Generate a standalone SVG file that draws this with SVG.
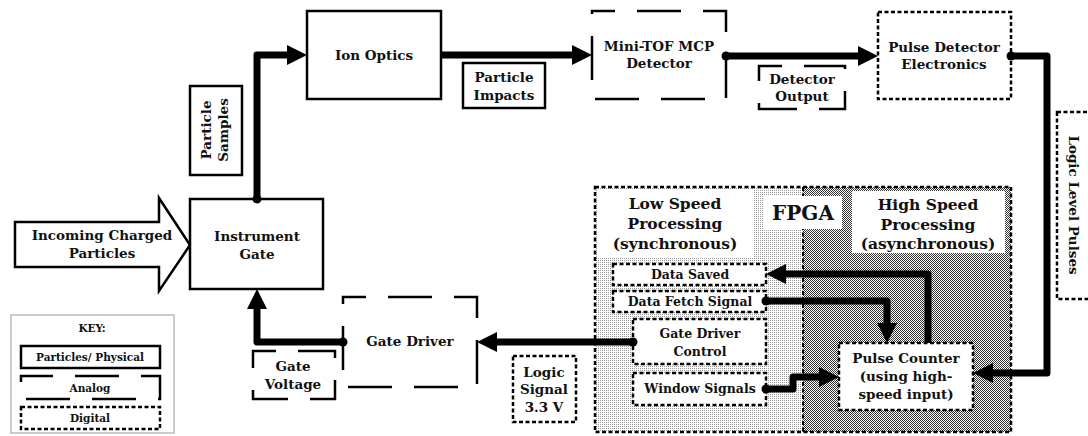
<svg xmlns="http://www.w3.org/2000/svg" width="1088" height="436" viewBox="0 0 1088 436">
<style>
.solid{fill:#fff;stroke:#000;stroke-width:2.5}
.analog{fill:#fff;stroke:#000;stroke-width:2.5;stroke-dasharray:44 22;stroke-dashoffset:21}
.digital{fill:#fff;stroke:#000;stroke-width:2.5;stroke-dasharray:4 2.5}
.conn{fill:none;stroke:#000;stroke-width:7;stroke-linejoin:round}
text{font-family:"DejaVu Serif","Liberation Serif",serif;font-weight:bold;font-size:13.5px;text-anchor:middle;fill:#111}
.sm{font-size:12.5px}
.key{font-size:10.5px}
.big{font-size:15.5px}
</style>
<defs>
<marker id="ah" viewBox="0 -10 20 20" refX="0" refY="0" markerWidth="20" markerHeight="20" markerUnits="userSpaceOnUse" orient="auto"><path d="M0,-10 L20,0 L0,10 z" fill="#000"/></marker>
<marker id="dot" viewBox="-5 -5 10 10" refX="0" refY="0" markerWidth="10" markerHeight="10" markerUnits="userSpaceOnUse"><circle r="4.5" fill="#000"/></marker>
<pattern id="lowp" width="2" height="2" patternUnits="userSpaceOnUse"><rect width="2" height="2" fill="#fff"/><rect width="1" height="1" fill="#999"/></pattern>
<pattern id="highp" width="2" height="2" patternUnits="userSpaceOnUse"><rect width="2" height="2" fill="#fff"/><rect width="1" height="1" fill="#333"/><rect x="1" y="1" width="1" height="1" fill="#333"/></pattern>
</defs>
<rect width="1088" height="436" fill="#fff"/>

<g id="fpga">
<rect x="595" y="187" width="208" height="245" fill="url(#lowp)"/>
<rect x="803" y="187" width="208" height="245" fill="url(#highp)"/>
<rect x="595" y="187" width="416" height="245" fill="none" stroke="#000" stroke-width="2.5" stroke-dasharray="4 2.5"/>
<line x1="803" y1="187" x2="803" y2="432" stroke="#000" stroke-width="2" stroke-dasharray="4 2.5"/>
<rect x="598" y="190" width="155" height="68" fill="#fff"/>
<text class="big" x="675" y="209">Low Speed</text>
<text class="big" x="675" y="229">Processing</text>
<text class="big" x="675" y="249">(synchronous)</text>
<rect x="764" y="196" width="78" height="33" fill="#fff"/>
<text x="803" y="220" style="font-size:20px">FPGA</text>
<rect x="852" y="191" width="153" height="62" fill="#fff"/>
<text class="big" x="928" y="210">High Speed</text>
<text class="big" x="928" y="230">Processing</text>
<text class="big" x="928" y="249">(asynchronous)</text>
</g>

<g id="incoming">
<polygon points="15,222 159,222 159,198 190,245 159,291 159,267 15,267" class="solid"/>
<text x="102" y="240">Incoming Charged</text>
<text x="102" y="258">Particles</text>
</g>

<g id="instrument-gate">
<rect x="190" y="199" width="133" height="90" class="solid"/>
<text x="257" y="241">Instrument</text>
<text x="257" y="259">Gate</text>
</g>

<g id="particle-samples">
<rect x="190" y="86" width="52" height="89" class="solid"/>
<text transform="translate(211,130) rotate(-90)">Particle</text>
<text transform="translate(228,130) rotate(-90)">Samples</text>
</g>

<g id="ion-optics">
<rect x="307" y="11" width="134" height="88" class="solid"/>
<text x="374" y="60">Ion Optics</text>
</g>

<g id="particle-impacts">
<rect x="463" y="63" width="82" height="45" class="solid"/>
<text x="504" y="82">Particle</text>
<text x="504" y="100">Impacts</text>
</g>

<g id="mini-tof">
<rect x="592" y="11" width="134" height="88" class="analog"/>
<text x="659" y="51">Mini-TOF MCP</text>
<text x="659" y="68">Detector</text>
</g>

<g id="detector-output">
<rect x="759" y="66" width="86" height="43" class="analog"/>
<text x="802" y="84">Detector</text>
<text x="802" y="101">Output</text>
</g>

<g id="pulse-detector">
<rect x="878" y="12" width="133" height="87" class="digital"/>
<text x="944" y="52">Pulse Detector</text>
<text x="944" y="69">Electronics</text>
</g>

<g id="logic-level-pulses">
<rect x="1057" y="112" width="36" height="187" class="digital"/>
<text transform="translate(1069,205) rotate(90)">Logic Level Pulses</text>
</g>

<g id="gate-driver">
<rect x="343" y="297" width="134" height="90" class="analog"/>
<text x="410" y="346">Gate Driver</text>
</g>

<g id="gate-voltage">
<rect x="253" y="351" width="82" height="48" class="analog"/>
<text x="293" y="371">Gate</text>
<text x="293" y="389">Voltage</text>
</g>

<g id="logic-signal">
<rect x="513" y="356" width="63" height="66" class="digital"/>
<text x="544" y="377">Logic</text>
<text x="544" y="394">Signal</text>
<text x="544" y="412">3.3 V</text>
</g>

<g id="data-saved">
<rect x="613" y="264" width="153" height="21" class="digital"/>
<text class="sm" x="690" y="279">Data Saved</text>
</g>

<g id="data-fetch">
<rect x="613" y="291" width="153" height="21" class="digital"/>
<text class="sm" x="690" y="306">Data Fetch Signal</text>
</g>

<g id="gate-driver-control">
<rect x="633" y="319" width="133" height="45" class="digital"/>
<text class="sm" x="700" y="338">Gate Driver</text>
<text class="sm" x="700" y="356">Control</text>
</g>

<g id="window-signals">
<rect x="633" y="373" width="133" height="32" class="digital"/>
<text class="sm" x="700" y="393">Window Signals</text>
</g>

<g id="pulse-counter">
<rect x="839" y="343" width="134" height="67" class="digital"/>
<text x="906" y="363">Pulse Counter</text>
<text x="906" y="381">(using high-</text>
<text x="906" y="399">speed input)</text>
</g>

<g id="key">
<rect x="11" y="315" width="163" height="118" fill="#fff" stroke="#999" stroke-width="1"/>
<text class="key" x="92" y="332">KEY:</text>
<rect x="21" y="346" width="139" height="22" class="solid"/>
<text class="key" x="90" y="361">Particles/ Physical</text>
<rect x="21" y="376" width="139" height="23" class="analog" style="stroke-dashoffset:12"/>
<text class="key" x="90" y="392">Analog</text>
<rect x="21" y="407" width="139" height="22" class="digital"/>
<text class="key" x="90" y="422">Digital</text>
</g>

<g id="connectors">
<path class="conn" d="M257,199 V55 H287" marker-start="url(#dot)" marker-end="url(#ah)"/>
<path class="conn" d="M441,55 H572" marker-end="url(#ah)"/>
<path class="conn" d="M726,56 H858" marker-start="url(#dot)" marker-end="url(#ah)"/>
<path class="conn" d="M1011,56 H1047 V373 H993" marker-start="url(#dot)" marker-end="url(#ah)"/>
<path class="conn" d="M928,343 V274 H786" marker-end="url(#ah)"/>
<path class="conn" d="M766,301 H887 V323" marker-start="url(#dot)" marker-end="url(#ah)"/>
<path class="conn" d="M766,389 H793 V377 H819" marker-start="url(#dot)" marker-end="url(#ah)"/>
<path class="conn" d="M633,342 H497" marker-start="url(#dot)" marker-end="url(#ah)"/>
<path class="conn" d="M343,342 H257 V309" marker-start="url(#dot)" marker-end="url(#ah)"/>
</g>
</svg>
